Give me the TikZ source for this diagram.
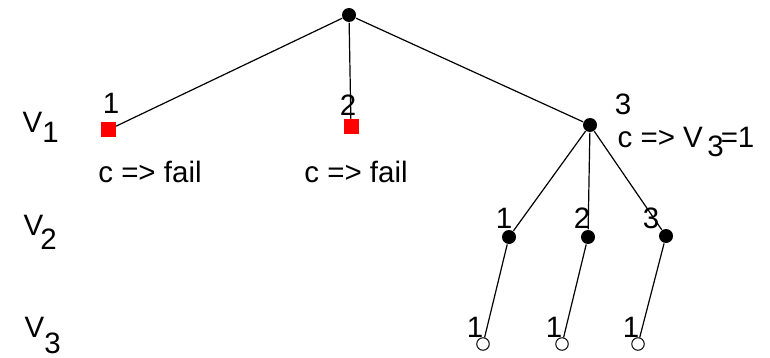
\documentclass[tikz,border=0pt]{standalone}
\usepackage{fontspec}
\setmainfont{Liberation Sans}
\newcommand{\lowsub}[2][0.4em]{\raisebox{-#1}{#2}}

\begin{document}
\begin{tikzpicture}[x=1pt,y=-1pt,line width=1.2pt,
	every node/.style={font=\fontsize{29.5}{34}\selectfont,inner sep=0pt},
	fulldot/.style={circle,fill=black,minimum size=14pt},
	emptydot/.style={circle,draw=black,fill=white,line width=1pt,minimum size=12.5pt},
	failbox/.style={rectangle,fill=red,minimum size=15pt}]
	\useasboundingbox(0,0) rectangle (770,358);
	\node[fulldot](root) at (349,15){};
	\node[failbox](a1) at (108,130){};
	\node[failbox](a2) at (351,127){};
	\node[fulldot](a3) at (590,125){};
	\node[fulldot](b1) at (509,237){};
	\node[fulldot](b2) at (588,237){};
	\node[fulldot](b3) at (666,236){};
	\node[emptydot](c1) at (483,344){};
	\node[emptydot](c2) at (562,344){};
	\node[emptydot](c3) at (638,344){};
	\draw(root)--(a1);
	\draw(root)--(a2);
	\draw(root)--(a3);
	\draw(a3)--(b1);
	\draw(a3)--(b2);
	\draw(a3)--(b3);
	\draw(b1)--(c1);
	\draw(b2)--(c2);
	\draw(b3)--(c3);
	% value labels
	\node(la1) at (111,103){1};
	\node(la2) at (348,105){2};
	\node(la3) at (623,104){3};
	\node(lb1) at (504,218){1};
	\node(lb2) at (582,218){2};
	\node(lb3) at (651,218){3};
	\node(lc1) at (475,327){1};
	\node(lc2) at (554,327){1};
	\node(lc3) at (631,327){1};
	\node(f1) at (150,172){c => fail};
	\node(f2) at (356,172){c => fail};
	\node[anchor=base west](f3) at (617,148){c => V\kern0.15em\lowsub[0.3em]{3}\kern-0.1em=1};
	% variables
	\node[anchor=base west](v1) at (22,133){V\lowsub[0.33em]{1}};
	\node[anchor=base west](v2) at (23,235){V\kern-0.1em\lowsub[0.5em]{2}};
	\node[anchor=base west](v3) at (24,337){V\lowsub[0.55em]{3}};
\end{tikzpicture}
\end{document}
